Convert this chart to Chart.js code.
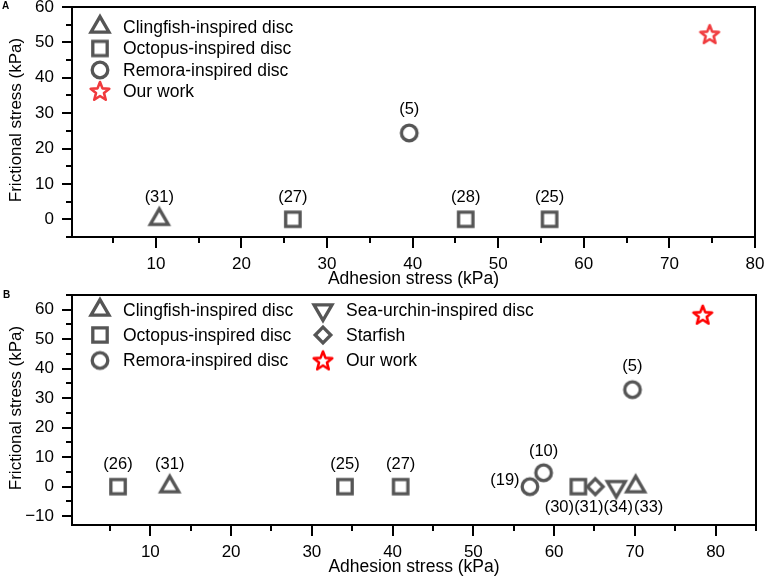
<!DOCTYPE html>
<html>
<head>
<meta charset="utf-8">
<script src="https://cdn.jsdelivr.net/npm/chart.js@4/dist/chart.umd.min.js"></script>
<style>
  body { margin: 0; background: #fff; }
  #wrap { position: relative; width: 765px; height: 578px; font-family: "Liberation Sans", Arial, sans-serif; }
  canvas { position: absolute; left: 0; }
  .tag { position: absolute; font-weight: bold; font-size: 10px; }
</style>
</head>
<body>
<div id="wrap">
  <canvas id="chartA" width="765" height="288" style="top:0"></canvas>
  <canvas id="chartB" width="765" height="290" style="top:288px"></canvas>
  <span class="tag" style="left:2px;top:0px">A</span>
  <span class="tag" style="left:3px;top:289px">B</span>
</div>
<script>
// ---- data, panel A ----
const clingA_x = [10.4];
const clingA_y = [0];
const clingA_ref = ['(31)'];
const octoA_x = [26.0, 46.2, 56.0];
const octoA_y = [0, 0, 0];
const octoA_ref = ['(27)', '(28)', '(25)'];
const remoraA_x = [39.6];
const remoraA_y = [24.4];
const remoraA_ref = ['(5)'];
const oursA_x = [74.7];
const oursA_y = [52.3];

// ---- data, panel B ----
const octoB_x = [6.0, 34.1, 41.0, 63.0];
const octoB_y = [0, 0, 0, 0];
const octoB_ref = ['(26)', '(25)', '(27)', '(30)'];
const clingB_x = [12.4, 70.1];
const clingB_y = [0, 0];
const clingB_ref = ['(31)', '(33)'];
const remoraB_x = [57.0, 58.7, 69.7];
const remoraB_y = [0, 4.7, 32.9];
const remoraB_ref = ['(19)', '(10)', '(5)'];
const urchinB_x = [67.7];
const urchinB_y = [0];
const urchinB_ref = ['(34)'];
const starfishB_x = [65.1];
const starfishB_y = [0];
const starfishB_ref = ['(31)'];
const oursB_x = [78.4];
const oursB_y = [58.3];

// ---- ticks ----
const xTicksA = [5, 10, 15, 20, 25, 30, 35, 40, 45, 50, 55, 60, 65, 70, 75, 80];
const yTicksA = [-5, 0, 5, 10, 15, 20, 25, 30, 35, 40, 45, 50, 55, 60];
const xTicksB = [5, 10, 15, 20, 25, 30, 35, 40, 45, 50, 55, 60, 65, 70, 75, 80, 85];
const yTicksB = [-10, -5, 0, 5, 10, 15, 20, 25, 30, 35, 40, 45, 50, 55, 60, 65];

const FONT = '"Liberation Sans", Arial, sans-serif';
const GREY = '#555555';

// marker images, used for both points and legend
function marker(kind, color) {
  const c = document.createElement('canvas');
  c.width = 30; c.height = 30;
  const g = c.getContext('2d');
  const m = 15;
  g.strokeStyle = color;
  g.lineWidth = 3.3;
  g.lineJoin = 'miter';
  g.beginPath();
  if (kind === 'square') {
    g.rect(m - 7.2, m - 7.2, 14.4, 14.4);
  } else if (kind === 'circle') {
    g.arc(m, m, 7.8, 0, Math.PI * 2);
  } else if (kind === 'up' || kind === 'down') {
    const s = 18, h = s * Math.sqrt(3) / 2, d = kind === 'up' ? 1 : -1;
    g.moveTo(m, m - d * 2 * h / 3);
    g.lineTo(m + s / 2, m + d * h / 3);
    g.lineTo(m - s / 2, m + d * h / 3);
    g.closePath();
  } else if (kind === 'diamond') {
    g.moveTo(m, m - 7.8); g.lineTo(m + 7.8, m); g.lineTo(m, m + 7.8); g.lineTo(m - 7.8, m);
    g.closePath();
  } else if (kind === 'star') {
    g.lineWidth = 2.6;
    g.lineJoin = 'round';
    const R = 9.8, r = 4.2;
    for (let i = 0; i < 10; i++) {
      const rr = i % 2 ? r : R;
      const a = -Math.PI / 2 + i * Math.PI / 5;
      const px = m + rr * Math.cos(a), py = m + 0.8 + rr * Math.sin(a);
      if (i === 0) g.moveTo(px, py); else g.lineTo(px, py);
    }
    g.closePath();
  }
  g.stroke();
  return c;
}

const mk = {
  up: marker('up', GREY),
  down: marker('down', GREY),
  square: marker('square', GREY),
  circle: marker('circle', GREY),
  diamond: marker('diamond', GREY),
  starA: marker('star', '#f03a3d'),
  starB: marker('star', '#ff0000')
};

function pts(xs, ys) {
  return xs.map((v, i) => ({ x: v, y: ys[i] }));
}
function ds(label, xs, ys, img, refs, shifts) {
  return {
    label, data: pts(xs, ys), pointStyle: img, pointRadius: 6,
    refs: refs || [], shifts: shifts || []
  };
}

const decor = {
  id: 'decor',
  afterDraw(chart, args, o) {
    const { ctx, chartArea: a } = chart;
    const x = chart.scales.x, y = chart.scales.y;
    ctx.save();
    ctx.strokeStyle = '#000';
    ctx.lineWidth = 2;
    ctx.strokeRect(a.left, a.top, a.right - a.left, a.bottom - a.top);
    ctx.beginPath();
    x.ticks.forEach(t => {
      const px = Math.round(x.getPixelForValue(t.value));
      ctx.moveTo(px, a.bottom);
      ctx.lineTo(px, a.bottom + (t.value % 10 === 0 ? 11 : 6));
    });
    y.ticks.forEach(t => {
      const py = Math.round(y.getPixelForValue(t.value));
      ctx.moveTo(a.left, py);
      ctx.lineTo(a.left - (t.value % 10 === 0 ? 10 : 6), py);
    });
    ctx.stroke();

    // reference labels
    ctx.fillStyle = '#000';
    ctx.font = '16.5px ' + FONT;
    ctx.textAlign = 'center';
    ctx.textBaseline = 'middle';
    chart.data.datasets.forEach((d, di) => {
      const meta = chart.getDatasetMeta(di);
      d.refs.forEach((txt, i) => {
        const p = meta.data[i];
        const s = d.shifts[i] || [0, -22];
        ctx.fillText(txt, p.x + s[0], p.y + s[1]);
      });
    });

    // legend inside the plot
    ctx.font = '17.5px ' + FONT;
    ctx.textAlign = 'left';
    o.legend.forEach(e => {
      const lx = a.left + e.col, ly = a.top + e.row;
      ctx.drawImage(e.img, lx - 15, ly - 15);
      ctx.fillText(e.text, lx + 23, ly + 1);
    });

    // axis titles
    ctx.font = '17.5px ' + FONT;
    ctx.textAlign = 'center';
    ctx.fillText('Adhesion stress (kPa)', (a.left + a.right) / 2, a.bottom + 42);
    ctx.font = '17px ' + FONT;
    ctx.translate(16, (a.top + a.bottom) / 2 - 2);
    ctx.rotate(-Math.PI / 2);
    ctx.fillText('Frictional stress (kPa)', 0, 0);
    ctx.restore();
  }
};

function fmt(v) {
  if (v % 10 !== 0) return '';
  return v < 0 ? '\u2212' + Math.abs(v) : String(v);
}

function build(id, datasets, cfg) {
  return new Chart(document.getElementById(id), {
    type: 'scatter',
    data: { datasets },
    options: {
      responsive: false,
      animation: false,
      layout: { padding: { top: 6, right: cfg.padRight, left: 0, bottom: 0 } },
      plugins: {
        legend: { display: false },
        tooltip: { enabled: false },
        decor: cfg.decor
      },
      scales: {
        x: {
          type: 'linear', min: cfg.xMin, max: cfg.xMax,
          afterBuildTicks: s => { s.ticks = cfg.xTicks.map(v => ({ value: v })); },
          afterFit: s => { s.height = cfg.xHeight; s.paddingLeft = 0; s.paddingRight = 0; },
          grid: { display: false, drawTicks: false },
          border: { display: false },
          ticks: { autoSkip: false, maxRotation: 0, padding: 17, color: '#000',
                   font: { family: FONT, size: 17 }, callback: v => (v === 0 ? '' : fmt(v)) }
        },
        y: {
          type: 'linear', min: cfg.yMin, max: cfg.yMax,
          afterBuildTicks: s => { s.ticks = cfg.yTicks.map(v => ({ value: v })); },
          afterFit: s => { s.width = 72; s.paddingTop = 0; s.paddingBottom = 0; },
          grid: { display: false, drawTicks: false },
          border: { display: false },
          ticks: { autoSkip: false, padding: 18, color: '#000',
                   font: { family: FONT, size: 17 }, callback: fmt }
        }
      }
    },
    plugins: [decor]
  });
}

// panel A
build('chartA', [
  ds('Clingfish-inspired disc', clingA_x, clingA_y, mk.up, clingA_ref),
  ds('Octopus-inspired disc', octoA_x, octoA_y, mk.square, octoA_ref),
  ds('Remora-inspired disc', remoraA_x, remoraA_y, mk.circle, remoraA_ref, [[0, -24]]),
  ds('Our work', oursA_x, oursA_y, mk.starA)
], {
  xMin: 0.2, xMax: 80, yMin: -5, yMax: 60, xTicks: xTicksA, yTicks: yTicksA,
  padRight: 10, xHeight: 51,
  decor: {
    legend: [
      { img: mk.up, text: 'Clingfish-inspired disc', col: 28, row: 20 },
      { img: mk.square, text: 'Octopus-inspired disc', col: 28, row: 41.5 },
      { img: mk.circle, text: 'Remora-inspired disc', col: 28, row: 63 },
      { img: mk.starA, text: 'Our work', col: 28, row: 84 }
    ]
  }
});

// panel B
build('chartB', [
  ds('Octopus-inspired disc', octoB_x, octoB_y, mk.square, octoB_ref, [null, null, null, [-19, 21]]),
  ds('Starfish', starfishB_x, starfishB_y, mk.diamond, starfishB_ref, [[-6.5, 21]]),
  ds('Sea-urchin-inspired disc', urchinB_x, urchinB_y, mk.down, urchinB_ref, [[2, 21]]),
  ds('Clingfish-inspired disc', clingB_x, clingB_y, mk.up, clingB_ref, [null, [13, 21]]),
  ds('Remora-inspired disc', remoraB_x, remoraB_y, mk.circle, remoraB_ref, [[-25, -6], [0, -21], [0, -23]]),
  ds('Our work', oursB_x, oursB_y, mk.starB)
], {
  xMin: 0.3, xMax: 85, yMin: -13, yMax: 65, xTicks: xTicksB, yTicks: yTicksB,
  padRight: 9, xHeight: 53,
  decor: {
    legend: [
      { img: mk.up, text: 'Clingfish-inspired disc', col: 28, row: 15 },
      { img: mk.square, text: 'Octopus-inspired disc', col: 28, row: 40 },
      { img: mk.circle, text: 'Remora-inspired disc', col: 28, row: 65.5 },
      { img: mk.down, text: 'Sea-urchin-inspired disc', col: 251, row: 15 },
      { img: mk.diamond, text: 'Starfish', col: 251, row: 40 },
      { img: mk.starB, text: 'Our work', col: 251, row: 65.5 }
    ]
  }
});
</script>
</body>
</html>
